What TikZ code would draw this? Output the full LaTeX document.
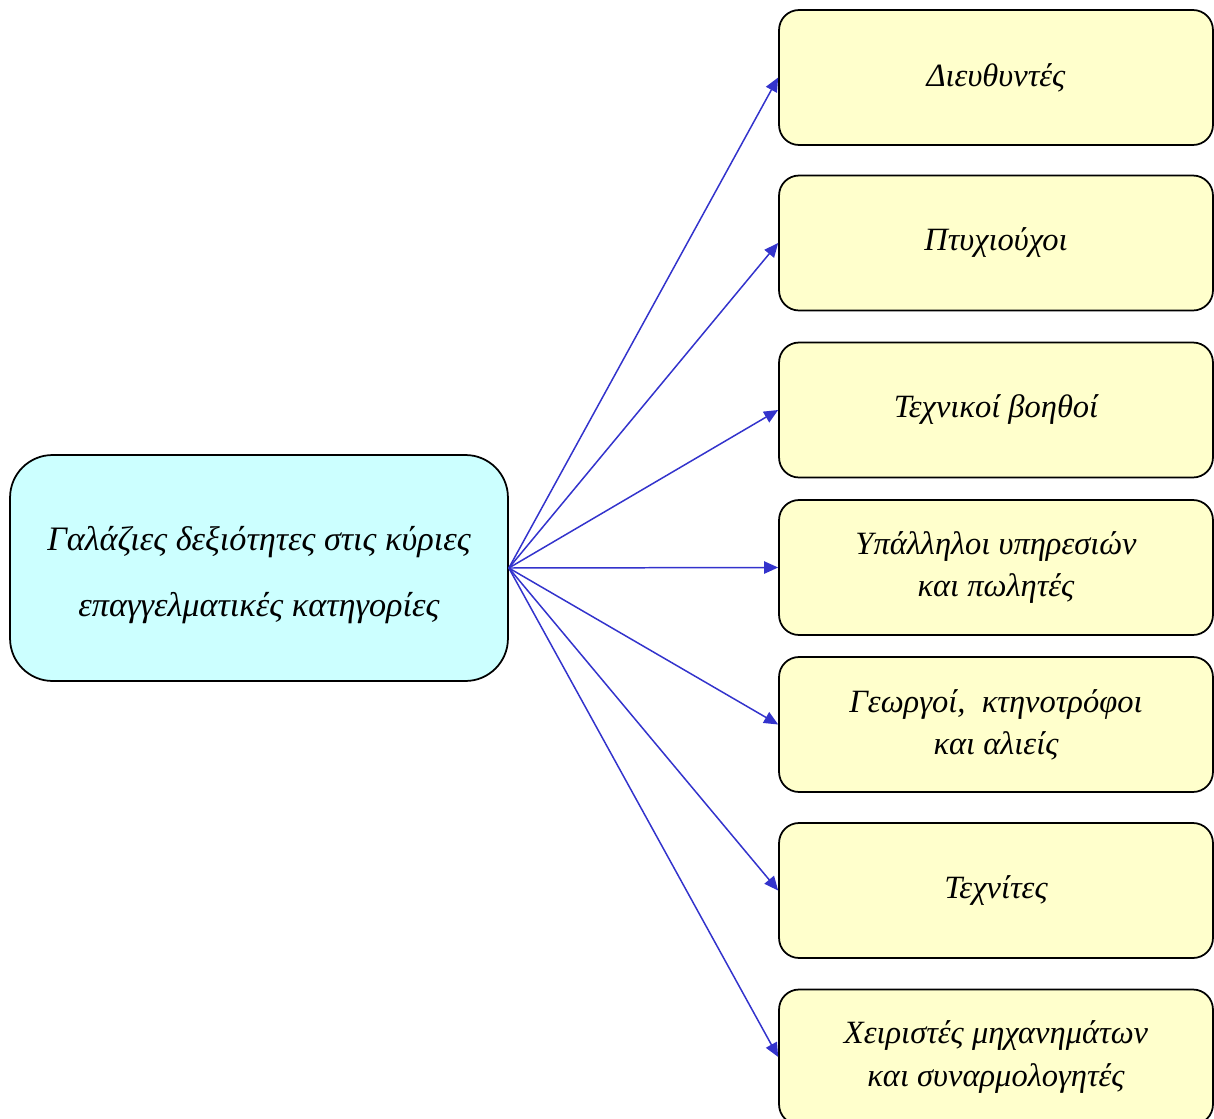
\documentclass[tikz,border=0pt]{standalone}
\usepackage{fontspec}
\setmainfont{Liberation Serif}
\usetikzlibrary{arrows.meta}
\definecolor{leftfill}{HTML}{CCFFFF}
\definecolor{rightfill}{HTML}{FFFFCC}
\definecolor{arrowblue}{HTML}{3333CC}
\begin{document}
\begin{tikzpicture}[x=0.02cm,y=-0.02cm,
  mainbox/.style={draw=black,line width=1pt,fill=leftfill,rounded corners=0.85cm,
    minimum width=9.96cm,minimum height=4.52cm},
  maintext/.style={align=center,font=\fontsize{19.5}{37.5}\selectfont\itshape},
  catbox/.style={draw=black,line width=1pt,fill=rightfill,rounded corners=0.4cm,
    minimum width=8.68cm,minimum height=2.7cm,align=center,
    font=\fontsize{18.5}{24}\selectfont\itshape},
  link/.style={draw=arrowblue,line width=0.85pt,-{Triangle[length=8pt,width=7pt]}}]
\useasboundingbox (0,0) rectangle (1214,1119);
\begin{scope}
\clip (0,0) rectangle (1214,1119);
\node[mainbox] (m) at (259,568) {};
\node[maintext] (mt) at ([yshift=-0.14cm]m.center) {Γαλάζιες δεξιότητες στις κύριες\\επαγγελματικές κατηγορίες};
\node[catbox] (c1) at (996,77.5) {Διευθυντές};
\node[catbox] (c2) at (996,243) {Πτυχιούχοι};
\node[catbox] (c3) at (996,410) {Τεχνικοί βοηθοί};
\node[catbox] (c4) at (996,567.5) {Υπάλληλοι υπηρεσιών\\και πωλητές};
\node[catbox] (c5) at (996,724.5) {Γεωργοί,\ \ κτηνοτρόφοι\\και αλιείς};
\node[catbox] (c6) at (996,890.5) {Τεχνίτες};
\node[catbox] (c7) at (996,1057) {Χειριστές μηχανημάτων\\και συναρμολογητές};
\foreach \i in {1,...,7}{\draw[link] (m.east) -- (c\i.west);}
\end{scope}
\end{tikzpicture}
\end{document}
